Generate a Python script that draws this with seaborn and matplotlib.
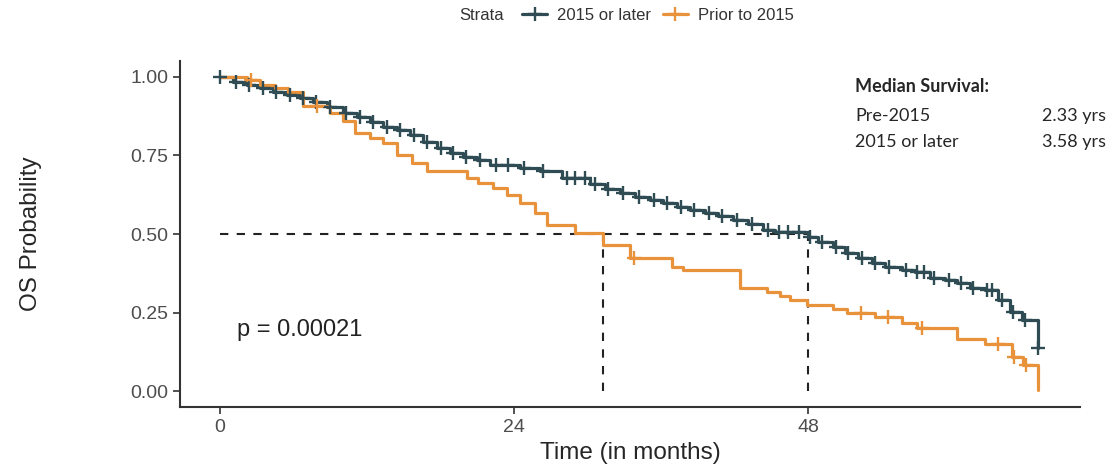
import numpy as np
import pandas as pd
import matplotlib
matplotlib.use("Agg")
import matplotlib.pyplot as plt
import seaborn as sns
from matplotlib.lines import Line2D

# Kaplan-Meier steps (months, survival after the drop)
later_times = [1.06, 2.20, 3.27, 4.33, 5.47, 6.53, 7.59, 8.73, 10.04, 11.18, 12.24, 13.31,
               14.45, 15.51, 16.57, 17.71, 18.78, 19.84, 20.98, 22.04, 24.49, 26.12, 27.92,
               30.20, 31.43, 32.65, 33.88, 35.10, 36.16, 37.31, 38.37, 39.59, 40.65, 41.88,
               43.10, 44.33, 45.31, 48.00, 48.82, 50.04, 51.02, 52.08, 53.22, 54.29, 55.67,
               56.73, 57.96, 59.18, 60.16, 61.22, 62.45, 63.51, 64.49, 65.47, 66.78]
later_surv = [0.984, 0.975, 0.965, 0.952, 0.943, 0.933, 0.920, 0.904, 0.885, 0.873, 0.857, 0.841,
              0.831, 0.815, 0.793, 0.774, 0.758, 0.745, 0.736, 0.720, 0.710, 0.700, 0.678,
              0.659, 0.643, 0.631, 0.618, 0.609, 0.599, 0.586, 0.576, 0.567, 0.557, 0.545,
              0.532, 0.513, 0.506, 0.490, 0.475, 0.459, 0.440, 0.424, 0.408, 0.395, 0.385,
              0.379, 0.360, 0.353, 0.344, 0.328, 0.322, 0.290, 0.252, 0.226, 0.137]
later_censor = [0.0, 1.3, 2.4, 3.5, 4.6, 5.7, 6.8, 7.8, 9.0, 10.3, 11.4, 12.5, 13.6, 14.7,
                15.8, 16.9, 18.0, 19.0, 20.1, 21.2, 22.5, 23.5, 24.8, 26.4, 28.3, 29.0, 29.8,
                30.6, 31.7, 32.9, 34.2, 35.4, 36.5, 37.6, 38.7, 39.9, 41.0, 42.2, 43.4, 44.7,
                45.6, 46.4, 47.3, 48.2, 49.1, 50.3, 51.3, 52.4, 53.5, 54.6, 56.0, 56.9, 57.5,
                58.3, 59.5, 60.5, 61.5, 62.6, 63.0, 63.8, 64.7, 65.7, 66.78]

prior_times = [2.20, 3.27, 4.49, 5.55, 6.78, 8.98, 10.04, 11.02, 12.24, 13.31, 14.45, 15.67,
               16.90, 20.16, 21.06, 22.29, 23.43, 24.49, 25.71, 26.69, 28.98, 31.27, 33.47,
               36.90, 37.80, 42.45, 44.65, 45.71, 46.53, 47.92, 50.04, 51.18, 53.47, 55.67,
               56.90, 60.16, 62.45, 64.65, 65.55, 66.78]
prior_surv = [0.988, 0.975, 0.965, 0.952, 0.906, 0.885, 0.860, 0.822, 0.806, 0.790, 0.752, 0.726,
              0.700, 0.678, 0.662, 0.646, 0.624, 0.599, 0.567, 0.529, 0.503, 0.465, 0.424,
              0.395, 0.385, 0.328, 0.315, 0.303, 0.290, 0.274, 0.261, 0.248, 0.236, 0.217,
              0.200, 0.166, 0.150, 0.108, 0.083, 0.003]
prior_censor = [2.5, 7.9, 33.8, 52.3, 54.5, 57.3, 63.5, 64.8, 65.8]

strata = ["2015 or later", "Prior to 2015"]
colors = {"2015 or later": "#2F4B53", "Prior to 2015": "#E8933B"}
median_times = [31.27, 48.0]
p_text = "p = 0.00021"


def step_frame(times, surv, label):
    return pd.DataFrame({"time": [0.0] + times, "surv": [1.0] + surv, "strata": label})


def censor_frame(times, surv, censor, label):
    t = np.array(times)
    s = np.array(surv)
    idx = np.searchsorted(t, censor, side="right") - 1
    vals = np.where(idx >= 0, s[np.clip(idx, 0, None)], 1.0)
    return pd.DataFrame({"time": censor, "surv": vals, "strata": label})


curves = pd.concat([step_frame(later_times, later_surv, strata[0]),
                    step_frame(prior_times, prior_surv, strata[1])])
marks = pd.concat([censor_frame(later_times, later_surv, later_censor, strata[0]),
                   censor_frame(prior_times, prior_surv, prior_censor, strata[1])])

sns.set_style("white")
plt.rcParams["font.family"] = ["Liberation Sans", "DejaVu Sans"]

fig = plt.figure(figsize=(11.18, 4.68), dpi=100)
ax = fig.add_axes([0.161, 0.1303, 0.805, 0.7394])

# median lines
ax.plot([0, max(median_times)], [0.5, 0.5], ls=(0, (4, 4)), color="#222222", lw=1.5)
for m in median_times:
    ax.plot([m, m], [0, 0.5], ls=(0, (4, 4)), color="#222222", lw=1.5)

sns.lineplot(data=curves, x="time", y="surv", hue="strata", palette=colors,
             drawstyle="steps-post", estimator=None, sort=False, lw=2.3,
             legend=False, ax=ax)
for name in strata:
    sub = marks[marks["strata"] == name]
    ax.plot(sub["time"], sub["surv"], ls="none", marker="+", ms=10, mew=1.7,
            color=colors[name])

ax.set_xlim(-3.27, 70.2)
ax.set_ylim(-0.05, 1.05)
ax.set_xticks([0, 24, 48])
ax.set_yticks([0, 0.25, 0.5, 0.75, 1.0])
ax.set_yticklabels(["0.00", "0.25", "0.50", "0.75", "1.00"])
ax.tick_params(axis="both", labelsize=14, labelcolor="#4D4D4D", color="#333333",
               length=5, width=1.2, direction="out", bottom=True, left=True)
for side in ["top", "right"]:
    ax.spines[side].set_visible(False)
for side in ["left", "bottom"]:
    ax.spines[side].set_color("#333333")
    ax.spines[side].set_linewidth(1.5)

ax.set_xlabel("Time (in months)", fontsize=17.5, va="center")
ax.set_ylabel("OS Probability", fontsize=17.5, va="center")
ax.xaxis.set_label_coords(0.5, -0.133)
ax.yaxis.set_label_coords(-0.1656, 0.501)

ax.text(1.4, 0.194, p_text, fontsize=17, va="center", ha="left", color="#222222")

# legend on top
fig.text(459 / 1118, 1 - 15 / 468, "Strata", fontsize=12, va="center", color="#333333")
handles = [Line2D([], [], color=colors[n], lw=2.3, marker="+", ms=10, mew=1.7) for n in strata]
fig.legend(handles, strata, ncol=2, frameon=False, fontsize=12, loc="center",
           bbox_to_anchor=(658 / 1118, 1 - 15 / 468), handlelength=1.5,
           columnspacing=0.7, handletextpad=0.6, labelcolor="#333333")

# median survival note
note_font = ["Lato", "DejaVu Sans"]
fig.text(855 / 1118, 1 - 87 / 468, "Median Survival:", fontsize=13, weight="bold",
         va="center", family=note_font)
fig.text(855 / 1118, 1 - 116 / 468, "Pre-2015", fontsize=13, va="center", family=note_font)
fig.text(855 / 1118, 1 - 142 / 468, "2015 or later", fontsize=13, va="center", family=note_font)
fig.text(1042 / 1118, 1 - 116 / 468, "2.33 yrs", fontsize=13, va="center", family=note_font)
fig.text(1042 / 1118, 1 - 142 / 468, "3.58 yrs", fontsize=13, va="center", family=note_font)

fig.savefig("out.png", dpi=100)
